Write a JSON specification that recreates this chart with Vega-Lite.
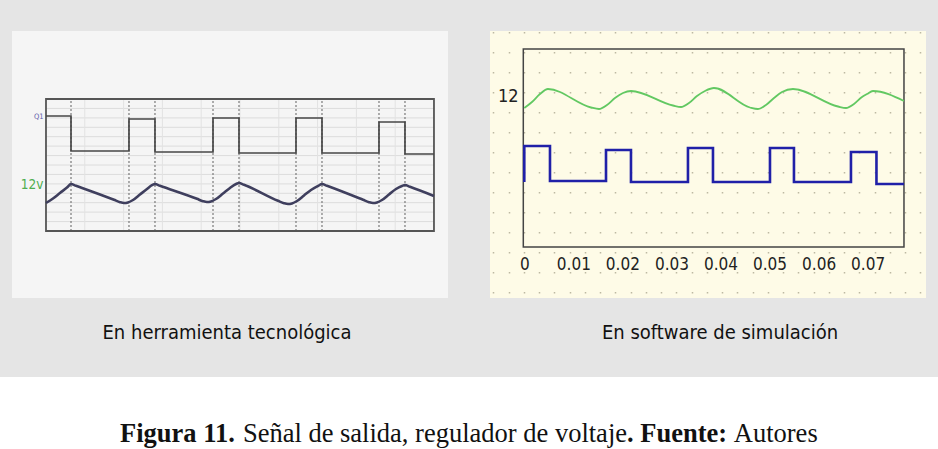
{
  "$schema": "https://vega.github.io/schema/vega-lite/v6.json",
  "background": "#e5e5e5",
  "padding": {"top": 31, "left": 0, "right": 0, "bottom": 0},
  "autosize": {"type": "pad"},
  "spacing": 34,
  "center": true,
  "datasets": {
    "lhgrid": [{"v": 8.24}, {"v": 9.19}, {"v": 10.13}, {"v": 11.07}, {"v": 12.01}, {"v": 12.96}, {"v": 13.9}, {"v": 14.84}, {"v": 15.79}, {"v": 16.73}, {"v": 17.67}, {"v": 18.61}, {"v": 19.56}],
    "lvgrid": [{"t": 7.91}, {"t": 15.82}, {"t": 23.73}, {"t": 31.64}, {"t": 39.55}, {"t": 47.46}, {"t": 55.37}, {"t": 63.28}, {"t": 71.19}],
    "ledges": [{"t": 5.1}, {"t": 16.92}, {"t": 22.22}, {"t": 34.05}, {"t": 39.35}, {"t": 50.97}, {"t": 56.27}, {"t": 67.89}, {"t": 73.19}],
    "lq1": [
      {"t": 0, "v": 18.8}, {"t": 5.1, "v": 15.3}, {"t": 16.92, "v": 18.5}, {"t": 22.22, "v": 15.2},
      {"t": 34.05, "v": 18.6}, {"t": 39.35, "v": 15.1}, {"t": 50.97, "v": 18.6}, {"t": 56.27, "v": 15.1},
      {"t": 67.89, "v": 18.2}, {"t": 73.19, "v": 15.0}, {"t": 79.1, "v": 15.0}
    ],
    "l12": [
      {"t": 0, "v": 10.1}, {"t": 1.43, "v": 10.55}, {"t": 2.85, "v": 11.1}, {"t": 4.28, "v": 11.65}, {"t": 5.1, "v": 12.0}, {"t": 6.12, "v": 11.82},
      {"t": 13.86, "v": 10.42}, {"t": 15.09, "v": 10.18}, {"t": 15.9, "v": 10.1}, {"t": 16.72, "v": 10.16}, {"t": 17.74, "v": 10.4}, {"t": 19.16, "v": 10.95}, {"t": 20.59, "v": 11.5}, {"t": 21.61, "v": 11.88}, {"t": 22.22, "v": 12.0}, {"t": 23.24, "v": 11.82},
      {"t": 30.78, "v": 10.52}, {"t": 32.01, "v": 10.28}, {"t": 32.82, "v": 10.2}, {"t": 33.64, "v": 10.26}, {"t": 34.66, "v": 10.5}, {"t": 36.09, "v": 11.05}, {"t": 37.51, "v": 11.6}, {"t": 38.74, "v": 12.0}, {"t": 39.35, "v": 12.1}, {"t": 40.37, "v": 11.92},
      {"t": 47.3, "v": 10.32}, {"t": 48.52, "v": 10.08}, {"t": 49.34, "v": 10.0}, {"t": 50.15, "v": 10.06}, {"t": 51.17, "v": 10.3}, {"t": 52.6, "v": 10.85}, {"t": 54.03, "v": 11.4}, {"t": 55.45, "v": 11.8}, {"t": 56.27, "v": 12.0}, {"t": 57.29, "v": 11.82},
      {"t": 64.63, "v": 10.42}, {"t": 65.85, "v": 10.18}, {"t": 66.67, "v": 10.1}, {"t": 67.48, "v": 10.16}, {"t": 68.5, "v": 10.4}, {"t": 69.93, "v": 10.95}, {"t": 71.36, "v": 11.5}, {"t": 72.58, "v": 11.8}, {"t": 73.19, "v": 11.9}, {"t": 74.21, "v": 11.72},
      {"t": 79.1, "v": 10.8}
    ],
    "rgreen": [
      {"t": 0.0, "v": 10.8}, {"t": 0.00157, "v": 11.4}, {"t": 0.0032, "v": 12.2}, {"t": 0.00483, "v": 12.7},
      {"t": 0.0136, "v": 10.85}, {"t": 0.01523, "v": 10.7}, {"t": 0.01686, "v": 11.1}, {"t": 0.01849, "v": 11.8}, {"t": 0.02012, "v": 12.3}, {"t": 0.02175, "v": 12.5},
      {"t": 0.03032, "v": 11.05}, {"t": 0.03195, "v": 10.9}, {"t": 0.03358, "v": 11.3}, {"t": 0.03521, "v": 12.0}, {"t": 0.03684, "v": 12.5}, {"t": 0.03867, "v": 12.8},
      {"t": 0.04601, "v": 10.85}, {"t": 0.04764, "v": 10.7}, {"t": 0.04927, "v": 11.1}, {"t": 0.05091, "v": 11.8}, {"t": 0.05254, "v": 12.4}, {"t": 0.05478, "v": 12.7},
      {"t": 0.06396, "v": 10.95}, {"t": 0.06559, "v": 10.8}, {"t": 0.06722, "v": 11.2}, {"t": 0.06885, "v": 11.9}, {"t": 0.06987, "v": 12.2}, {"t": 0.07109, "v": 12.5},
      {"t": 0.07741, "v": 11.5}
    ],
    "rblue": [
      {"i": 0, "t": 0, "v": 3.4}, {"i": 1, "t": 0, "v": 7.0}, {"i": 2, "t": 0.00524, "v": 3.5},
      {"i": 3, "t": 0.01666, "v": 6.6}, {"i": 4, "t": 0.02175, "v": 3.4}, {"i": 5, "t": 0.03337, "v": 6.8},
      {"i": 6, "t": 0.03847, "v": 3.4}, {"i": 7, "t": 0.05009, "v": 6.8}, {"i": 8, "t": 0.05498, "v": 3.4},
      {"i": 9, "t": 0.0666, "v": 6.4}, {"i": 10, "t": 0.0718, "v": 3.2}, {"i": 11, "t": 0.07741, "v": 3.2}
    ]
  },
  "vconcat": [
    {
      "spacing": 42,
      "hconcat": [
        {
          "width": 436,
          "height": 267,
          "view": {"fill": "#f5f5f5", "stroke": null},
          "title": {"text": "En herramienta tecnológica", "orient": "bottom", "anchor": "middle", "dx": -3, "offset": 25, "font": "DejaVu Sans Condensed", "fontSize": 20, "fontWeight": "normal", "color": "#111111"},
          "layer": [
            {
              "data": {"name": "lhgrid"},
              "mark": {"type": "rule", "color": "#dcdcdc", "strokeWidth": 1},
              "encoding": {
                "y": {"field": "v", "type": "quantitative", "scale": {"domain": [0.6, 27.3], "nice": false, "zero": false},
                      "axis": {"orient": "left", "offset": -34, "values": [12, 18.8], "labelExpr": "datum.value == 12 ? '12v' : 'Q1'",
                               "labelColor": {"condition": {"test": "datum.value == 12", "value": "#4fae4f"}, "value": "#5b5ba8"},
                               "labelFontSize": {"condition": {"test": "datum.value == 12", "value": 13.5}, "value": 7.5},
                               "labelFont": "DejaVu Sans Condensed",
                               "labelPadding": 3, "ticks": false, "domain": false, "grid": false, "title": null}},
                "x": {"datum": 0, "type": "quantitative", "scale": {"domain": [-6.93, 81.96], "nice": false, "zero": false}, "axis": null},
                "x2": {"datum": 79.1}
              }
            },
            {
              "data": {"name": "lvgrid"},
              "mark": {"type": "rule", "color": "#e2e2e2", "strokeWidth": 1},
              "encoding": {
                "x": {"field": "t", "type": "quantitative", "axis": null},
                "y": {"datum": 7.3, "type": "quantitative"},
                "y2": {"datum": 20.5}
              }
            },
            {
              "data": {"name": "ledges"},
              "mark": {"type": "rule", "color": "#7a7a7a", "strokeWidth": 1.2, "strokeDash": [2, 2]},
              "encoding": {
                "x": {"field": "t", "type": "quantitative", "axis": null},
                "y": {"datum": 7.3, "type": "quantitative"},
                "y2": {"datum": 20.5}
              }
            },
            {
              "data": {"values": [{}]},
              "mark": {"type": "rect", "filled": false, "stroke": "#555555", "strokeWidth": 1.8},
              "encoding": {
                "x": {"datum": 0, "type": "quantitative", "axis": null},
                "x2": {"datum": 79.1},
                "y": {"datum": 7.3, "type": "quantitative"},
                "y2": {"datum": 20.5}
              }
            },
            {
              "data": {"name": "lq1"},
              "mark": {"type": "line", "interpolate": "step-after", "color": "#474747", "strokeWidth": 1.7},
              "encoding": {
                "x": {"field": "t", "type": "quantitative", "axis": null},
                "y": {"field": "v", "type": "quantitative"}
              }
            },
            {
              "data": {"name": "l12"},
              "mark": {"type": "line", "interpolate": "monotone", "color": "#3f3f5e", "strokeWidth": 2.6},
              "encoding": {
                "x": {"field": "t", "type": "quantitative", "axis": null},
                "y": {"field": "v", "type": "quantitative"}
              }
            }
          ]
        },
        {
          "width": 436,
          "height": 267,
          "view": {"fill": "#fefbe7", "stroke": null},
          "title": {"text": "En software de simulación", "orient": "bottom", "anchor": "middle", "dx": 12, "offset": 25, "font": "DejaVu Sans Condensed", "fontSize": 20, "fontWeight": "normal", "color": "#111111"},
          "resolve": {"axis": {"x": "independent"}},
          "layer": [
            {
              "data": {"values": [{}]},
              "mark": {"type": "rect", "filled": false, "stroke": "#444444", "strokeWidth": 1.5},
              "encoding": {
                "x": {"datum": -0.0002, "type": "quantitative", "scale": {"domain": [-0.00699, 0.0819], "nice": false, "zero": false},
                      "axis": {"orient": "top", "values": [-0.00632, -0.00321, -0.0001, 0.00301, 0.00612, 0.00923, 0.01233, 0.01544, 0.01855, 0.02166, 0.02477, 0.02788, 0.03099, 0.0341, 0.03721, 0.04032, 0.04342, 0.04653, 0.04964, 0.05275, 0.05586, 0.05897, 0.06208, 0.06519, 0.0683, 0.07141, 0.07451, 0.07762, 0.08073],
                               "grid": true, "gridDash": [1.5, 18.5], "gridDashOffset": 15, "gridColor": "#bdb9a2", "gridWidth": 1.5, "gridOpacity": 1,
                               "labels": false, "ticks": false, "domain": false, "title": null}},
                "x2": {"datum": 0.07741},
                "y": {"datum": -3.1, "type": "quantitative", "scale": {"domain": [-8.2, 18.5], "nice": false, "zero": false},
                      "axis": {"orient": "left", "offset": -33, "values": [12], "labelExpr": "'12'", "labelFontSize": 18, "labelColor": "#222222",
                               "labelFont": "DejaVu Sans Condensed",
                               "labelPadding": 5, "ticks": false, "domain": false, "grid": false, "title": null}},
                "y2": {"datum": 16.7}
              }
            },
            {
              "data": {"name": "rgreen"},
              "mark": {"type": "line", "interpolate": "monotone", "color": "#62c862", "strokeWidth": 1.8},
              "encoding": {
                "x": {"field": "t", "type": "quantitative",
                      "axis": {"orient": "bottom", "offset": -51, "values": [0, 0.01, 0.02, 0.03, 0.04, 0.05, 0.06, 0.07], "format": ".2~f",
                               "labelFontSize": 17, "labelColor": "#222222", "labelFont": "DejaVu Sans Condensed",
                               "labelPadding": 9, "labelFlush": false, "labelOverlap": false, "ticks": false, "domain": false, "grid": false, "title": null}},
                "y": {"field": "v", "type": "quantitative"}
              }
            },
            {
              "data": {"name": "rblue"},
              "mark": {"type": "line", "interpolate": "step-after", "color": "#2020a8", "strokeWidth": 2.6},
              "encoding": {
                "x": {"field": "t", "type": "quantitative", "axis": null},
                "y": {"field": "v", "type": "quantitative"},
                "order": {"field": "i", "type": "quantitative"}
              }
            }
          ]
        }
      ]
    },
    {
      "width": 938,
      "height": 71,
      "view": {"fill": "#ffffff", "stroke": null},
      "data": {"values": [{}]},
      "layer": [
        {"mark": {"type": "text", "text": "Figura 11.", "font": "Liberation Serif", "fontWeight": "bold", "fontSize": 26.5, "align": "left", "baseline": "alphabetic", "x": 120, "y": 65, "color": "#111111"}, "encoding": {}},
        {"mark": {"type": "text", "text": "Señal de salida, regulador de voltaje", "font": "Liberation Serif", "fontWeight": "normal", "fontSize": 26.5, "align": "left", "baseline": "alphabetic", "x": 242.9, "y": 65, "color": "#111111"}, "encoding": {}},
        {"mark": {"type": "text", "text": ". Fuente:", "font": "Liberation Serif", "fontWeight": "bold", "fontSize": 26.5, "align": "left", "baseline": "alphabetic", "x": 627.1, "y": 65, "color": "#111111"}, "encoding": {}},
        {"mark": {"type": "text", "text": "Autores", "font": "Liberation Serif", "fontWeight": "normal", "fontSize": 26.5, "align": "left", "baseline": "alphabetic", "x": 733.8, "y": 65, "color": "#111111"}, "encoding": {}}
      ]
    }
  ],
  "config": {"view": {"stroke": null}}
}
